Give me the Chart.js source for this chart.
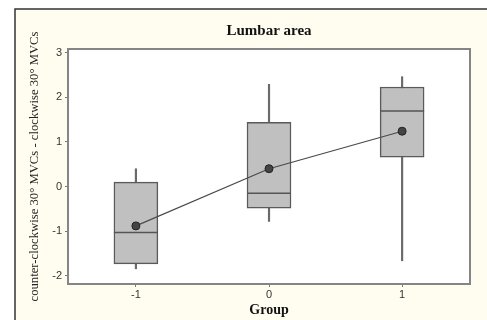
<!DOCTYPE html>
<html>
<head>
<meta charset="utf-8">
<script src="https://cdn.jsdelivr.net/npm/chart.js@4"></script>
<style>
  html, body { margin: 0; padding: 0; background: #ffffff; }
  #wrap { width: 487px; height: 320px; position: relative; }
</style>
</head>
<body>
<div id="wrap"><canvas id="boxChart"></canvas></div>
<script>
// Group positions on the x axis
const groups = [-1, 0, 1]
// Box plot statistics
const q1 = [-1.73, -0.48, 0.66]
const q3 = [0.10, 1.44, 2.23]
const medians = [-1.03, -0.15, 1.69]
const means = [-0.88, 0.40, 1.24]
const whiskerLow = [-1.84, -0.78, -1.66]
const whiskerHigh = [0.40, 2.29, 2.46]
// Tick labels
const xTicks = [-1, 0, 1]
const yTicks = [-2, -1, 0, 1, 2, 3]

const frameBackground = {
  id: 'frameBackground',
  beforeDraw(chart) {
    const { ctx, chartArea } = chart
    ctx.save()
    ctx.fillStyle = '#ffffff'
    ctx.fillRect(0, 0, chart.width, chart.height)
    ctx.fillStyle = '#fffdf0'
    ctx.fillRect(15, 9, chart.width - 15, chart.height - 9)
    ctx.strokeStyle = '#333333'
    ctx.lineWidth = 1.5
    ctx.beginPath()
    ctx.moveTo(15, chart.height)
    ctx.lineTo(15, 9)
    ctx.lineTo(chart.width, 9)
    ctx.stroke()
    // plot area
    ctx.fillStyle = '#ffffff'
    ctx.fillRect(chartArea.left, chartArea.top, chartArea.width, chartArea.height)
    ctx.restore()
  },
  afterDraw(chart) {
    const { ctx, chartArea } = chart
    ctx.save()
    ctx.strokeStyle = '#858585'
    ctx.lineWidth = 2
    ctx.strokeRect(chartArea.left, chartArea.top, chartArea.width, chartArea.height)
    ctx.restore()
  }
}

const ctx = document.getElementById('boxChart')

new Chart(ctx, {
  type: 'bar',
  data: {
    datasets: [
      {
        type: 'line',
        label: 'Mean',
        data: groups.map((g, i) => ({ x: g, y: means[i] })),
        borderColor: '#4a4a4a',
        borderWidth: 1.2,
        pointRadius: 4,
        pointBackgroundColor: '#444444',
        pointBorderColor: '#222222',
        pointBorderWidth: 1,
        order: 1
      },
      {
        type: 'scatter',
        label: 'Median',
        data: groups.map((g, i) => ({ x: g, y: medians[i] })),
        pointStyle: 'line',
        pointRadius: 22,
        borderColor: '#555555',
        borderWidth: 1.5,
        order: 2
      },
      {
        label: 'Box',
        data: groups.map((g, i) => ({ x: g, y: [q1[i], q3[i]] })),
        backgroundColor: '#c0c0c0',
        borderColor: '#5a5a5a',
        borderWidth: 1.5,
        borderSkipped: false,
        barThickness: 44,
        grouped: false,
        order: 3
      },
      {
        label: 'Whisker',
        data: groups.map((g, i) => ({ x: g, y: [whiskerLow[i], whiskerHigh[i]] })),
        backgroundColor: '#6a6a6a',
        borderWidth: 0,
        barThickness: 1.5,
        grouped: false,
        order: 4
      }
    ]
  },
  options: {
    responsive: true,
    maintainAspectRatio: false,
    animation: false,
    layout: {
      autoPadding: false,
      padding: { left: 27, right: 17, top: 12, bottom: 1 }
    },
    plugins: {
      legend: { display: false },
      tooltip: { enabled: false },
      title: {
        display: true,
        text: 'Lumbar area',
        fullSize: false,
        color: '#111111',
        font: { family: 'Liberation Serif', size: 15, weight: 'bold' },
        padding: { top: 10, bottom: 9 }
      }
    },
    scales: {
      x: {
        type: 'linear',
        offset: false,
        min: -1.51,
        max: 1.51,
        afterBuildTicks: axis => { axis.ticks = xTicks.map(v => ({ value: v })) },
        grid: { offset: false, drawOnChartArea: false, drawTicks: true, tickLength: 3, color: '#777777' },
        border: { display: false },
        ticks: {
          color: '#333333',
          padding: 1,
          font: { family: 'Liberation Sans', size: 11 }
        },
        title: {
          display: true,
          text: 'Group',
          color: '#111111',
          font: { family: 'Liberation Serif', size: 14, weight: 'bold' },
          padding: { top: 0, bottom: 0 }
        }
      },
      y: {
        min: -2.18,
        max: 3.08,
        afterBuildTicks: axis => { axis.ticks = yTicks.map(v => ({ value: v })) },
        grid: { drawOnChartArea: false, drawTicks: true, tickLength: 3, color: '#777777' },
        border: { display: false },
        ticks: {
          color: '#333333',
          padding: 3,
          font: { family: 'Liberation Sans', size: 11 }
        },
        title: {
          display: true,
          text: 'counter-clockwise 30° MVCs - clockwise 30° MVCs',
          color: '#222222',
          font: { family: 'Liberation Serif', size: 12.7 },
          padding: { top: 0, bottom: 7 }
        }
      }
    }
  },
  plugins: [frameBackground]
})
</script>
</body>
</html>
